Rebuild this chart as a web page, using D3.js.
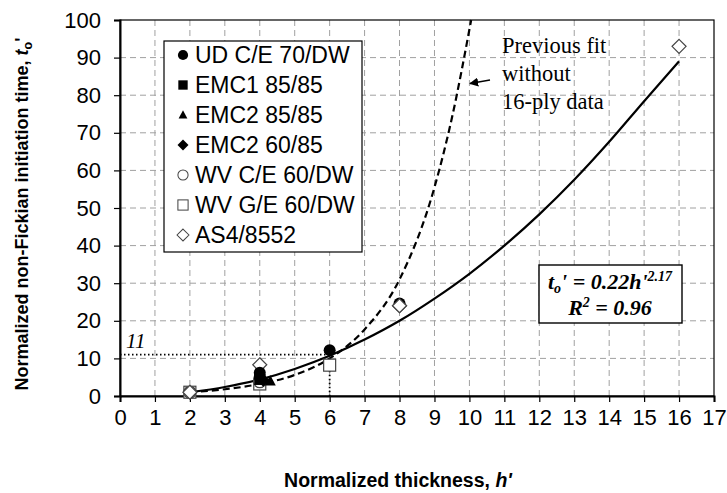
<!DOCTYPE html>
<html><head><meta charset="utf-8">
<script src="https://cdn.jsdelivr.net/npm/d3@7"></script>
<style>body{margin:0;background:#fff}svg{display:block}</style>
</head><body>
<svg id="c" width="727" height="493"></svg>
<script>
// ---- data ----
const xTicks = d3.range(0, 18);
const yTicks = d3.range(0, 101, 10);
const seriesNames = ["UD C/E 70/DW","EMC1 85/85","EMC2 85/85","EMC2 60/85","WV C/E 60/DW","WV G/E 60/DW","AS4/8552"];
const udCE = [[4,6.2],[4,5.1],[6,12.2],[8,24.6]];
const emc1 = [[4,4.4]];
const emc2_85 = [[4.3,4.0]];
const emc2_60 = [[4.1,4.2]];
const wvCE = [[2,1],[4,3.8]];
const wvGE = [[2,1],[4,3.2],[6,8.2]];
const as4 = [[2,1],[4,8.3],[8,24],[16,93]];
const currentFit = [[2,1],[3,2.4],[4,4.4],[5,7.2],[6,10.7],[7,15],[8,20],[9,25.9],[10,32.5],[11,40],[12,48.3],[13,57.5],[14,67.6],[15,78.4],[16,89]];
const previousFit = [[2,1],[3,1.8],[4,3.2],[5,5.6],[6,10],[7,17.7],[8,31],[9,55.5],[9.5,74],[10.05,100]];
const refLevel = 11, refX = 6;

const svg = d3.select("#c");
const L = 120, R = 714, T = 20, B = 396;
const x = d3.scaleLinear().domain([0,17]).range([L,R]);
const y = d3.scaleLinear().domain([0,100]).range([B,T]);
const sans = "'Liberation Sans', Arial, sans-serif";
const serif = "'Liberation Serif', 'Times New Roman', serif";

// grid
const g = svg.append("g");
g.selectAll(".gx").data(xTicks.filter(d=>d>0 && d<17)).join("line")
  .attr("x1",d=>x(d)).attr("x2",d=>x(d)).attr("y1",T).attr("y2",B)
  .attr("stroke","#a0a0a0").attr("stroke-width",1).attr("stroke-dasharray","6,4");
g.selectAll(".gy").data(yTicks.filter(d=>d>0 && d<100)).join("line")
  .attr("x1",L).attr("x2",R).attr("y1",d=>y(d)).attr("y2",d=>y(d))
  .attr("stroke","#a0a0a0").attr("stroke-width",1).attr("stroke-dasharray","6,4");
// frame
svg.append("rect").attr("x",L).attr("y",T).attr("width",R-L).attr("height",B-T)
  .attr("fill","none").attr("stroke","#000").attr("stroke-width",1.2);

// axes
const xa = svg.append("g").attr("transform",`translate(0,${B})`)
  .call(d3.axisBottom(x).tickValues(xTicks).tickSize(6).tickPadding(7).tickFormat(d3.format("d")));
const ya = svg.append("g").attr("transform",`translate(${L},0)`)
  .call(d3.axisLeft(y).tickValues(yTicks).tickSize(6).tickPadding(13).tickFormat(d3.format("d")));
[xa,ya].forEach(a=>{
  a.select(".domain").attr("stroke","#000").attr("stroke-width",2);
  a.selectAll(".tick line").attr("stroke","#000").attr("stroke-width",1.2);
  a.selectAll("text").attr("font-family",sans).attr("font-size",22).attr("fill","#000");
});

// dotted reference lines
svg.append("line").attr("x1",x(0)).attr("x2",x(refX)).attr("y1",y(refLevel)).attr("y2",y(refLevel))
  .attr("stroke","#000").attr("stroke-width",1.8).attr("stroke-dasharray","1.5,2.5");
svg.append("line").attr("x1",x(refX)).attr("x2",x(refX)).attr("y1",y(refLevel)).attr("y2",y(0))
  .attr("stroke","#000").attr("stroke-width",1.8).attr("stroke-dasharray","1.5,2.5");
svg.append("text").attr("x",x(0)+6).attr("y",y(refLevel)-7).text("11")
  .attr("font-family",serif).attr("font-style","italic").attr("font-size",21);

// curves
const line = d3.line().x(d=>x(d[0])).y(d=>y(d[1])).curve(d3.curveMonotoneX);
svg.append("path").datum(currentFit).attr("d",line).attr("fill","none").attr("stroke","#000").attr("stroke-width",2.2);
svg.append("path").datum(previousFit).attr("d",line).attr("fill","none").attr("stroke","#000").attr("stroke-width",2.2).attr("stroke-dasharray","7,4");

// markers
function drawMarker(sel, type, cx, cy){
  const s = sel.append("g").attr("transform",`translate(${cx},${cy})`);
  if(type==="fcircle") s.append("circle").attr("r",6).attr("fill","#000");
  if(type==="fsquare") s.append("rect").attr("x",-5.5).attr("y",-5.5).attr("width",11).attr("height",11).attr("fill","#000");
  if(type==="ftri") s.append("path").attr("d","M0,-6L5.5,4.5L-5.5,4.5Z").attr("fill","#000");
  if(type==="fdiamond") s.append("path").attr("d","M0,-6.5L6.5,0L0,6.5L-6.5,0Z").attr("fill","#000");
  if(type==="ocircle") s.append("circle").attr("r",6).attr("fill","#fff").attr("stroke","#444").attr("stroke-width",1.2);
  if(type==="osquare") s.append("rect").attr("x",-6).attr("y",-6).attr("width",12).attr("height",12).attr("fill","#fff").attr("stroke","#444").attr("stroke-width",1.2);
  if(type==="odiamond") s.append("path").attr("d","M0,-7L7,0L0,7L-7,0Z").attr("fill","#fff").attr("stroke","#444").attr("stroke-width",1.2);
}
const types = ["fcircle","fsquare","ftri","fdiamond","ocircle","osquare","odiamond"];
const drawOrder = [[wvGE,"osquare"],[wvCE,"ocircle"],[as4,"odiamond"],[udCE,"fcircle"],[emc1,"fsquare"],[emc2_60,"fdiamond"],[emc2_85,"ftri"]];
const mg = svg.append("g");
drawOrder.forEach(([data,t])=>data.forEach(d=>drawMarker(mg,t,x(d[0]),y(d[1]))));
drawMarker(mg,"odiamond",x(as4[2][0]),y(as4[2][1]));

// legend
const lg = svg.append("g");
lg.append("rect").attr("x",164).attr("y",41).attr("width",198).attr("height",211)
  .attr("fill","#fff").attr("stroke","#000").attr("stroke-width",1.2);
seriesNames.forEach((n,i)=>{
  const yy = 55 + i*30;
  const s = lg.append("g").attr("transform",`translate(183,${yy}) scale(${types[i]==="ftri"?0.8:0.85})`);
  drawMarker(s,types[i],0,0);
  lg.append("text").attr("x",195).attr("y",yy+8).text(n)
    .attr("font-family",sans).attr("font-size",23).attr("fill","#000");
});

// previous fit annotation
const ann = svg.append("g").attr("font-family",serif).attr("font-size",22.5).attr("fill","#000");
["Previous fit","without","16-ply data"].forEach((t,i)=>ann.append("text").attr("x",502).attr("y",53+i*28).text(t));
svg.append("defs").append("marker").attr("id","ah").attr("viewBox","0 0 10 10").attr("refX",9).attr("refY",5)
  .attr("markerWidth",7).attr("markerHeight",7).attr("orient","auto")
  .append("path").attr("d","M0,0L10,5L0,10Z").attr("fill","#000");
svg.append("line").attr("x1",490).attr("y1",80).attr("x2",470).attr("y2",83.5)
  .attr("stroke","#000").attr("stroke-width",1.3).attr("marker-end","url(#ah)");

// equation box
svg.append("rect").attr("x",539).attr("y",265).attr("width",143).attr("height",58)
  .attr("fill","#fff").attr("stroke","#000").attr("stroke-width",1.4);
const eq = svg.append("text").attr("x",610).attr("y",289).attr("text-anchor","middle")
  .attr("font-family",serif).attr("font-size",22).attr("font-weight","bold").attr("font-style","italic");
eq.append("tspan").text("t");
eq.append("tspan").text("o").attr("font-size",14).attr("dy",4);
eq.append("tspan").text("' = 0.22h'").attr("dy",-4);
eq.append("tspan").text("2.17").attr("font-size",14).attr("dy",-8);
const r2 = svg.append("text").attr("x",610).attr("y",315).attr("text-anchor","middle")
  .attr("font-family",serif).attr("font-size",22).attr("font-weight","bold").attr("font-style","italic");
r2.append("tspan").text("R");
r2.append("tspan").text("2").attr("font-size",14).attr("dy",-8);
r2.append("tspan").text(" = 0.96").attr("dy",8);

// axis titles
const xt = svg.append("text").attr("x",398).attr("y",487).attr("text-anchor","middle")
  .attr("font-family",sans).attr("font-size",19.5).attr("font-weight","bold");
xt.append("tspan").text("Normalized thickness, ");
xt.append("tspan").text("h'").attr("font-style","italic");
const yt = svg.append("text").attr("transform","translate(28,214) rotate(-90)").attr("text-anchor","middle")
  .attr("font-family",sans).attr("font-size",18).attr("font-weight","bold");
yt.append("tspan").text("Normalized non-Fickian initiation time, ");
yt.append("tspan").text("t").attr("font-style","italic");
yt.append("tspan").text("o").attr("font-size",12.5).attr("dy",4);
yt.append("tspan").text("'").attr("dy",-4);
</script>
</body></html>
